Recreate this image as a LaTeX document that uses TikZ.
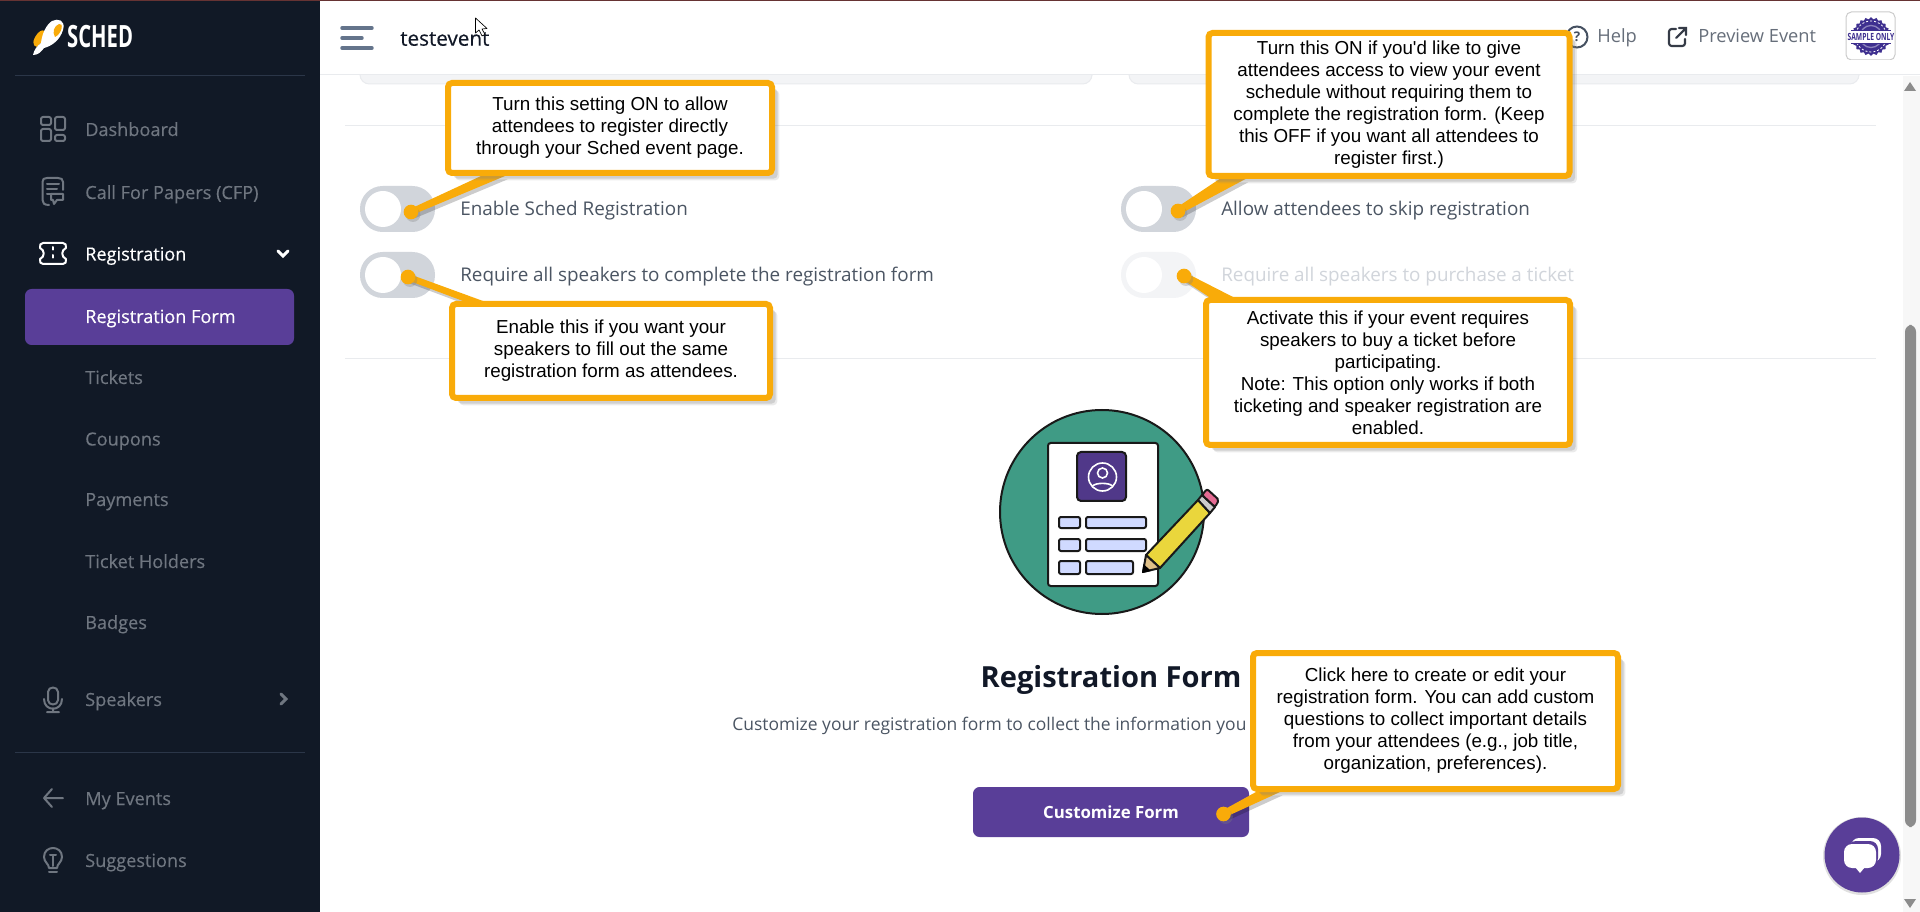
\documentclass[tikz,border=0pt]{standalone}
\usepackage{fontspec}
\usepackage{tikz}
\usetikzlibrary{calc}
\usetikzlibrary{shadows}
\usetikzlibrary{shapes.geometric}
\setmainfont{Open Sans}
\newfontfamily\callfont{Liberation Sans}
\newfontfamily\midfont[FakeBold=0.35]{Open Sans}
\definecolor{navbg}{HTML}{111926}
\definecolor{navtxt}{HTML}{6F7680}
\definecolor{navline}{HTML}{2B3648}
\definecolor{brandpurple}{HTML}{593E98}
\definecolor{callorange}{HTML}{F9AB09}
\definecolor{togglegrey}{HTML}{D1D5DB}
\definecolor{togglepale}{HTML}{F3F4F6}
\definecolor{labelgrey}{HTML}{4B5563}
\definecolor{palegrey}{HTML}{D1D5DB}
\definecolor{rulegrey}{HTML}{E9EBEE}
\definecolor{headink}{HTML}{111827}
\definecolor{barblue}{HTML}{64748B}
\definecolor{formgreen}{HTML}{3F9B85}
\definecolor{fieldblue}{HTML}{D0DAFF}
\definecolor{sealblue}{HTML}{3E2F8F}
\definecolor{pencilyellow}{HTML}{EAD63C}
\definecolor{pencilpink}{HTML}{E46B93}
\definecolor{pencilwood}{HTML}{DFC088}
\pgfdeclarelayer{page}
\pgfdeclarelayer{wedge}
\pgfsetlayers{page,wedge,main}
\tikzset{
  navlabel/.style={anchor=base west,inner sep=0pt,text=navtxt,font=\midfont\fontsize{13.6}{16}\selectfont},
  navactive/.style={anchor=base west,inner sep=0pt,text=white,font=\midfont\fontsize{13.6}{16}\selectfont},
  navicon/.style={draw=navtxt,line width=1.5,line cap=round,line join=round},
  optlabel/.style={anchor=base west,inner sep=0pt,text=labelgrey,font=\fontsize{14.15}{16}\selectfont},
  toggleknob/.style={circle,fill=white,minimum size=27pt,inner sep=0pt},
  calldot/.style={circle,fill=callorange,minimum size=11pt,inner sep=0pt,drop shadow={shadow xshift=1.5pt,shadow yshift=-2pt,opacity=.3}},
  callbox/.style={draw=callorange,line width=4.5pt,fill=white,rounded corners=3pt,align=center,text=black,inner sep=0pt,
    font=\callfont\fontsize{14.1}{16.5}\selectfont,
    drop shadow={shadow xshift=5.5pt,shadow yshift=-5.5pt,opacity=.16},
    drop shadow={shadow xshift=4.2pt,shadow yshift=-4.2pt,opacity=.25}},
  callwedge/.style={fill=callorange},
  callshade/.style={fill=black,opacity=.2,transform canvas={xshift=2pt,yshift=-2.5pt}},
  inkline/.style={draw=black!90,line width=1.5,rounded corners=1.5},
}
\begin{document}
\begin{tikzpicture}[x=0.75pt,y=0.75pt,yscale=-1,xscale=1]
\useasboundingbox (0,0) rectangle (1920,912);
\begin{pgfonlayer}{page}

%Page
\fill [white] (0,0) rectangle (1920,912);
\fill [navbg] (0,0) rectangle (320,912);
\fill [black!75!red!80!white] (0,0) rectangle (1920,1.2);

%Sidebar rules
\draw [navline,line width=0.75] (15,75.5) -- (305,75.5);
\draw [navline,line width=0.75] (15,752.5) -- (305,752.5);

%Logo
\fill [callorange] (38,33) .. controls (44,27) and (48,32) .. (46,38) -- (37,47) .. controls (32,46) and (32,40) .. (38,33) -- cycle;
\fill [white] (52,21) .. controls (58,18) and (66,20) .. (63,30) .. controls (60,40) and (52,46) .. (44,48) .. controls (41,52) and (38,55) .. (33,55) .. controls (34,50) and (37,46) .. (41,43) .. controls (42,34) and (46,25) .. (52,21) -- cycle;
\fill [callorange] (59,24) .. controls (64,22) and (62,34) .. (55,37) .. controls (52,32) and (54,26) .. (59,24) -- cycle;
\draw (67,47.7) node [anchor=base west,inner sep=0pt,text=white,xscale=0.66,font=\fontsize{23}{24}\selectfont\bfseries] (logotext) {SCHED};

% Text Node
\draw (85,136) node (navdash) [navlabel] {Dashboard};
\draw (85,199) node (navcfp) [navlabel] {Call For Papers (CFP)};
\draw (85,260.5) node (navreg) [navactive] {Registration};
\draw[fill=brandpurple,draw=none,rounded corners=5] (25,289) rectangle (294,345);
\draw (85,323) node (navform) [navactive] {Registration Form};
\draw (85,384) node (navtick) [navlabel] {Tickets};
\draw (85,445.5) node (navcoup) [navlabel] {Coupons};
\draw (85,506) node (navpay) [navlabel] {Payments};
\draw (85,568) node (navhold) [navlabel] {Ticket Holders};
\draw (85,629) node (navbadge) [navlabel] {Badges};
\draw (85,706) node (navspeak) [navlabel] {Speakers};
\draw (85,805) node (navevents) [navlabel] {My Events};
\draw (85,867) node (navsugg) [navlabel] {Suggestions};

%Sidebar icons
\draw [navicon,rounded corners=1.5] (41,117) rectangle (51,125) (41,129) rectangle (51,141) (55,117) rectangle (65,130) (55,135) rectangle (65,141);
\draw [navicon] (49,205) .. controls (44,205) and (42.5,203) .. (42.5,200) -- (42.5,182) .. controls (42.5,179) and (44,178) .. (47,178) -- (58,178) .. controls (61,178) and (63,179) .. (63,182) -- (63,190);
\draw [navicon] (47,184) -- (59,184) (47,189) -- (57,189) (47,194) -- (51,194);
\draw [navicon] (51,194) -- (63,194) -- (63,200) -- (57,200) -- (54,204) -- (53,200) -- (51,200) -- cycle;
\draw [navicon,draw=white] (43,243) -- (63,243) .. controls (66,243) and (66,245) .. (66,248) .. controls (61,250) and (61,257) .. (66,259) .. controls (66,262) and (66,264) .. (63,264) -- (43,264) .. controls (40,264) and (40,262) .. (40,259) .. controls (45,257) and (45,250) .. (40,248) .. controls (40,245) and (40,243) .. (43,243) -- cycle;
\draw [navicon,draw=white,dash pattern=on 2 off 4] (53,247) -- (53,262);
\draw [draw=white,line width=2.2,line cap=round] (278,251) -- (283,256) -- (288,251);
\draw [navicon] (48,692) .. controls (48,686) and (58,686) .. (58,692) -- (58,700) .. controls (58,706) and (48,706) .. (48,700) -- cycle;
\draw [navicon] (44,699) .. controls (44,712) and (62,712) .. (62,699) (53,708) -- (53,712) (47,712) -- (59,712);
\draw [draw=navtxt,line width=2.2,line cap=round] (281,694) -- (286,699) -- (281,704);
\draw [navicon] (63,798) -- (44,798) (52,789) -- (44,798) -- (52,807);
\draw [navicon] (49,868) .. controls (49,864) and (44,862) .. (44,857) .. controls (44,845) and (62,845) .. (62,857) .. controls (62,862) and (57,864) .. (57,868) -- cycle;
\draw [navicon] (49,872) -- (57,872) (50,855) -- (56,855) (53,855) -- (53,866);

%Header
\draw [barblue,line width=2.6,line cap=round] (342,28) -- (372,28) (342,38) -- (362,38) (342,48) -- (372,48);
\draw (400,45.7) node (eventname) [anchor=base west,inner sep=0pt,text=headink,font=\midfont\fontsize{15.5}{18}\selectfont] {testevent};
\draw [draw=rulegrey,line width=0.75] (320,75) -- (1920,75);
\draw [draw=black,fill=white,line width=0.5,line join=round] (475.5,18) -- (475.5,33) -- (479,30) -- (482,36) -- (485,34.5) -- (482,29) -- (487,28.5) -- cycle;

%Help
\draw [draw=barblue!70!black,line width=1.5] (1577,37) circle (10.5);
\draw (1577,37) node (helpmark) [text=barblue!70!black,font=\fontsize{10}{12}\selectfont\bfseries] {?};
\draw (1597,43) node (helptext) [anchor=base west,inner sep=0pt,text=labelgrey!85,font=\fontsize{13.7}{16}\selectfont] {Help};

%Preview
\draw [draw=headink!85,line width=1.6,line cap=round,rounded corners=2] (1676,29) -- (1669,29) -- (1669,46) -- (1685,46) -- (1685,39);
\draw [draw=headink!85,line width=1.6,line cap=round] (1676,38) -- (1686,28) (1679,28) -- (1686,28) -- (1686,35);
\draw (1698,43) node (previewtext) [anchor=base west,inner sep=0pt,text=labelgrey!85,font=\fontsize{13.7}{16}\selectfont] {Preview Event};

%Avatar
\draw [draw=black!20,fill=white,line width=0.75,rounded corners=4] (1846,12) rectangle (1895,60);
\draw (1871,36.5) node (seal) [star,star points=22,star point ratio=1.12,fill=sealblue,minimum size=29pt,inner sep=0pt] {};
\draw [draw=white,line width=0.6,dash pattern=on 1.5 off 1.5] (1871,36.5) circle (15.5);
\draw [white!40!sealblue,line width=1] (1871,36.5) circle (11);
\fill [white] (1850,31) rectangle (1892,43);
\draw [sealblue,line width=0.9] (1851,30.5) -- (1891,30.5) (1851,43.5) -- (1891,43.5);
\draw (1871,37) node (sealtext) [text=sealblue,xscale=0.68,font=\fontsize{7.4}{8}\selectfont\bfseries] {SAMPLE ONLY};

%Cards above
\draw [draw=rulegrey,fill=togglepale,line width=0.75,rounded corners=7] (360,66) rectangle (1092,84);
\draw [draw=rulegrey,fill=togglepale,line width=0.75,rounded corners=7] (1129,66) rectangle (1859,84);
\fill [white] (320,60) rectangle (1920,75);
\draw [draw=rulegrey,line width=0.75] (320,75) -- (1920,75);

%Rules
\draw [draw=rulegrey,line width=0.75] (345,125.5) -- (1876,125.5);
\draw [draw=rulegrey,line width=0.75] (345,358.5) -- (1876,358.5);

%Shape: Toggle
\fill [togglegrey,rounded corners=17] (360,186) rectangle (435,232);
\draw (383,209) node (knoba) [toggleknob] {};
\draw (460,215.7) node (labela) [optlabel] {Enable Sched Registration};
\fill [togglegrey,rounded corners=17] (360,252) rectangle (435,298);
\draw (383,275) node (knobb) [toggleknob] {};
\draw (460,281.7) node (labelb) [optlabel] {Require all speakers to complete the registration form};
\fill [togglegrey,rounded corners=17] (1121,186) rectangle (1196,232);
\draw (1144,209) node (knobc) [toggleknob] {};
\draw (1221,215.7) node (labelc) [optlabel] {Allow attendees to skip registration};
\fill [togglepale,rounded corners=17] (1121,252) rectangle (1196,298);
\draw (1144,275) node (knobd) [toggleknob] {};
\draw (1221,281.7) node (labeld) [optlabel,text=palegrey] {Require all speakers to purchase a ticket};

%Scrollbar
\fill [black!3] (1903,76) rectangle (1920,912);
\fill [black!45,rounded corners=5] (1905,325) rectangle (1916,827);
\fill [black!45] (1904,91) -- (1916,91) -- (1910,82) -- cycle;
\fill [black!45] (1904,899) -- (1916,899) -- (1910,908) -- cycle;

%Shape: Circle
\draw [draw=black!90,fill=formgreen,line width=1.5] (1102,512) circle (102);
\draw [inkline,fill=white,rounded corners=2] (1048,443) rectangle (1158,586);
\draw [inkline,fill=brandpurple!90!black,rounded corners=3] (1077,452) rectangle (1126,501);
\draw [draw=white,line width=1.2] (1102.5,477) circle (14);
\draw [draw=white,line width=1.2] (1102.5,473) circle (5);
\draw [draw=white,line width=1.2] (1092.5,486) .. controls (1096,482.5) and (1109,482.5) .. (1112.5,486);
\draw [inkline,fill=fieldblue] (1059,517) rectangle (1080,528);
\draw [inkline,fill=fieldblue] (1086,517) rectangle (1146,528);
\draw [inkline,fill=fieldblue] (1059,539) rectangle (1080,551);
\draw [inkline,fill=fieldblue] (1086,539) rectangle (1146,551);
\draw [inkline,fill=fieldblue] (1059,561) rectangle (1080,574);
\draw [inkline,fill=fieldblue] (1086,561) rectangle (1133,574);

%Pencil
\draw [draw=black!90,fill=pencilyellow,line width=1.5,line join=round] (1146,555) -- (1198,500) -- (1210,513) -- (1160,568) -- cycle;
\draw [draw=black!90,fill=black!20,line width=1.5,line join=round] (1198,500) -- (1202,495) -- (1215,507) -- (1210,513) -- cycle;
\draw [draw=black!90,fill=pencilpink,line width=1.5,line join=round,rounded corners=1.5] (1202,495) -- (1207,489) -- (1219,500) -- (1215,507) -- cycle;
\draw [draw=black!90,fill=pencilwood,line width=1.5,line join=round] (1143,572) -- (1146,555) -- (1160,568) -- cycle;
\fill [black] (1142,573) -- (1143.5,564) -- (1151,571) -- cycle;

% Text Node
\draw (1111,687) node (formtitle) [anchor=base,inner sep=0pt,text=headink,font=\fontsize{21.8}{26}\selectfont\bfseries] {Registration Form};
\draw (732,730) node (formnote) [anchor=base west,inner sep=0pt,text=labelgrey,font=\fontsize{13.1}{16}\selectfont] {Customize your registration form to collect the information you};
\draw [fill=brandpurple,draw=none,rounded corners=5] (973,787) rectangle (1249,837);
\draw (1111,818.5) node (custombtn) [anchor=base,inner sep=0pt,text=white,font=\fontsize{12.6}{15}\selectfont\bfseries] {Customize Form};

%Chat
\fill [black!12] (1862,856) circle (39);
\fill [brandpurple] (1862,855) circle (37.5);
\fill [white,rounded corners=6] (1851,838) rectangle (1881,862);
\fill [brandpurple,rounded corners=6] (1848,841) rectangle (1878,866);
\fill [white,rounded corners=6] (1844,844) rectangle (1876,868);
\fill [white] (1855,867) -- (1865,867) -- (1860,873) -- cycle;
\end{pgfonlayer}

%Callouts
\draw (411,212) node (dota) [calldot] {};
\draw (610,128) node (calla) [callbox,minimum width=243pt,minimum height=67.5pt] {Turn this setting ON to allow\\attendees to register directly\\through your Sched event page.};
\begin{pgfonlayer}{wedge}
\fill [callshade] ($(dota)+(-1,-3)$) -- ($(calla.south west)+(36,0)$) -- ($(calla.south west)+(60,0)$) -- ($(dota)+(1,3)$) -- cycle;
\fill [callwedge] ($(dota)+(-1,-3)$) -- ($(calla.south west)+(36,0)$) -- ($(calla.south west)+(60,0)$) -- ($(dota)+(1,3)$) -- cycle;
\end{pgfonlayer}

\draw (408,277) node (dotb) [calldot] {};
\draw (611,351) node (callb) [callbox,minimum width=238.5pt,minimum height=70.5pt] {Enable this if you want your\\speakers to fill out the same\\registration form as attendees.};
\begin{pgfonlayer}{wedge}
\fill [callshade] ($(dotb)+(1,-3)$) -- ($(callb.north west)+(34,0)$) -- ($(callb.north west)+(14,0)$) -- ($(dotb)+(-1,3)$) -- cycle;
\fill [callwedge] ($(dotb)+(1,-3)$) -- ($(callb.north west)+(34,0)$) -- ($(callb.north west)+(14,0)$) -- ($(dotb)+(-1,3)$) -- cycle;
\end{pgfonlayer}

\draw (1178,211) node (dotc) [calldot] {};
\draw (1389,104.5) node (callc) [callbox,minimum width=270.75pt,minimum height=107.25pt] {Turn this ON if you'd like to give\\attendees access to view your event\\schedule without requiring them to\\complete the registration form. (Keep\\this OFF if you want all attendees to\\register first.)};
\begin{pgfonlayer}{wedge}
\fill [callshade] ($(dotc)+(-2,-3)$) -- ($(callc.south west)+(14,0)$) -- ($(callc.south west)+(40,0)$) -- ($(dotc)+(2,3)$) -- cycle;
\fill [callwedge] ($(dotc)+(-2,-3)$) -- ($(callc.south west)+(14,0)$) -- ($(callc.south west)+(40,0)$) -- ($(dotc)+(2,3)$) -- cycle;
\end{pgfonlayer}

\draw (1184,276) node (dotd) [calldot] {};
\draw (1388,372.5) node (calld) [callbox,minimum width=273pt,minimum height=108.75pt] {Activate this if your event requires\\speakers to buy a ticket before\\participating.\\Note: This option only works if both\\ticketing and speaker registration are\\enabled.};
\begin{pgfonlayer}{wedge}
\fill [callshade] ($(dotd)+(2,-3)$) -- ($(calld.north west)+(30,0)$) -- ($(calld.north west)+(6,0)$) -- ($(dotd)+(-2,3)$) -- cycle;
\fill [callwedge] ($(dotd)+(2,-3)$) -- ($(calld.north west)+(30,0)$) -- ($(calld.north west)+(6,0)$) -- ($(dotd)+(-2,3)$) -- cycle;
\end{pgfonlayer}

\draw (1223.5,814) node (dote) [calldot] {};
\draw (1435.5,721) node (calle) [callbox,minimum width=273.75pt,minimum height=102pt] {Click here to create or edit your\\registration form. You can add custom\\questions to collect important details\\from your attendees (e.g., job title,\\organization, preferences).};
\begin{pgfonlayer}{wedge}
\fill [callshade] ($(dote)+(-2,-3)$) -- ($(calle.south west)+(6,0)$) -- ($(calle.south west)+(30,0)$) -- ($(dote)+(2,3)$) -- cycle;
\fill [callwedge] ($(dote)+(-2,-3)$) -- ($(calle.south west)+(6,0)$) -- ($(calle.south west)+(30,0)$) -- ($(dote)+(2,3)$) -- cycle;
\end{pgfonlayer}

\end{tikzpicture}
\end{document}
